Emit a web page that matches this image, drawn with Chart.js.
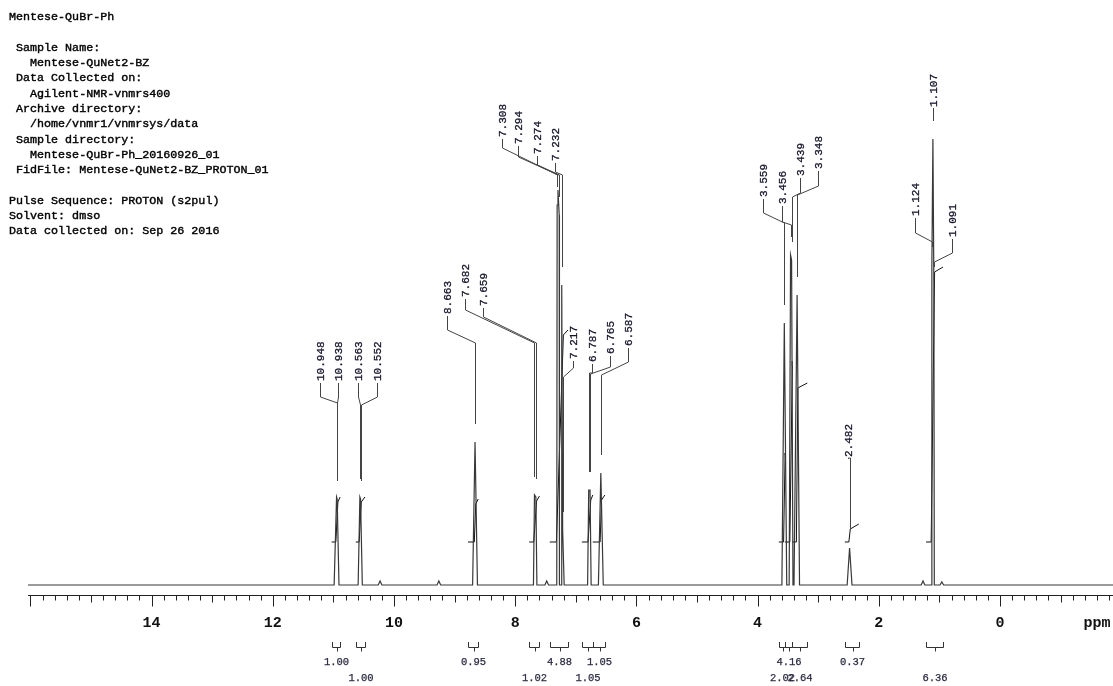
<!DOCTYPE html>
<html><head><meta charset="utf-8">
<script src="https://cdn.jsdelivr.net/npm/chart.js@4.4.1/dist/chart.umd.min.js"></script>
<style>html,body{margin:0;padding:0;background:#fff}canvas{display:block}</style>
</head><body>
<canvas id="c" width="1113" height="686"></canvas>
<script>
// ---------------- data ----------------
const headerLines = [
  "Mentese-QuBr-Ph",
  "",
  " Sample Name:",
  "   Mentese-QuNet2-BZ",
  " Data Collected on:",
  "   Agilent-NMR-vnmrs400",
  " Archive directory:",
  "   /home/vnmr1/vnmrsys/data",
  " Sample directory:",
  "   Mentese-QuBr-Ph_20160926_01",
  " FidFile: Mentese-QuNet2-BZ_PROTON_01",
  "",
  "Pulse Sequence: PROTON (s2pul)",
  "Solvent: dmso",
  "Data collected on: Sep 26 2016"
];

const peakPpm    = [10.948,10.938,10.563,10.552,8.663,7.682,7.659,7.308,7.294,7.274,7.232,7.217,6.787,6.765,6.587,3.559,3.456,3.439,3.348,2.482,1.124,1.107,1.091];
const peakHeight = [88,86,88,86,143,90,88,380,395,370,300,55,95,95,112,262,330,325,290,37,320,446,300];
const peakText   = ["10.948","10.938","10.563","10.552","8.663","7.682","7.659","7.308","7.294","7.274","7.232","7.217","6.787","6.765","6.587","3.559","3.456","3.439","3.348","2.482","1.124","1.107","1.091"];

const minorPpm    = [10.23, 9.26, 7.48, 1.27, 0.96];
const minorHeight = [4, 4, 4, 4, 3];

const intStart    = [11.03,10.63,8.78,7.77,7.43,6.90,6.72,3.65,3.55,3.43,2.56,1.22];
const intEnd      = [10.89,10.48,8.61,7.60,7.13,6.72,6.52,3.55,3.43,3.18,2.33,0.94];
const intText     = ["1.00","1.00","0.95","1.02","4.88","1.05","1.05","2.02","4.16","2.64","0.37","6.36"];
const intCurveTop = [86,86,84,87,253,88,88,130,222,200,59,316];

const axisTickValues = [14,12,10,8,6,4,2,0];
const axisTickLabels = ["14","12","10","8","6","4","2","0"];
const axisUnit = "ppm";
const ppmMin = -1.865, ppmMax = 16.04;

// peak-label annotation layout (in ppm / intensity units)
const labelPpm    = [11.221,10.924,10.594,10.281, 9.125, 8.828,8.531, 8.218,7.954,7.640,7.343, 7.046, 6.733,6.436,6.139, 3.911,3.597,3.300,3.003, 2.508, 1.403,1.106,0.792];
const labelBottom = [203,203,203,203, 270, 287,278, 447,440,430,423, 225, 222,230,238, 387,380,408,415, 127, 368,477,347];
const labelKnee   = [188,188,188,188, 255, 275,268, 437,428,420,413, 217, 212,218,223, 372,363,392,399, 127, 352,477,332];
const labelJoin   = [182,182,180,180, 242, 242,242, 410,410,410,410, 208, 212,211,210, 362,360,388,390, 127, 343,477,323];

// ---------------- build datasets ----------------
const W = 0.04;
const spec = [{x:ppmMax,y:0},{x:ppmMin,y:0}];
peakPpm.forEach((p,i)=>{ spec.push({x:p+W,y:0},{x:p,y:peakHeight[i]},{x:p-W,y:0}); });
minorPpm.forEach((p,i)=>{ spec.push({x:p+0.03,y:0},{x:p,y:minorHeight[i]},{x:p-0.03,y:0}); });
spec.sort((a,b)=>b.x-a.x);

const INT_BASE = 43;
const intPts = [];
intStart.forEach((s,i)=>{
  const e = intEnd[i];
  const inside = peakPpm.filter(p=>p<=s && p>=e);
  const pf = Math.max(...inside), pl = Math.min(...inside);
  const top = intCurveTop[i];
  intPts.push({x:s,y:INT_BASE},{x:pf+0.012,y:INT_BASE},{x:pl-0.012,y:top-3},{x:e,y:top+2},{x:e-0.001,y:null});
});

const MONO = "'Liberation Mono', 'DejaVu Sans Mono', monospace";

function heavyText(ctx, s, x, y, w){
  ctx.fillText(s, x, y);
  ctx.lineWidth = w;
  ctx.strokeStyle = ctx.fillStyle;
  ctx.strokeText(s, x, y);
}

const decor = {
  id:'decor',
  afterDatasetsDraw(chart){
    const ctx = chart.ctx, xs = chart.scales.x, ys = chart.scales.y;
    const ca = chart.chartArea;
    ctx.save();
    // peak leaders
    const GAP = 18;
    peakPpm.forEach((p,i)=>{
      const lx = Math.round(xs.getPixelForValue(labelPpm[i]))+0.5;
      const px = Math.round(xs.getPixelForValue(p))+0.5;
      const yb = ys.getPixelForValue(labelBottom[i]);
      const yk = ys.getPixelForValue(labelKnee[i]);
      const yj = ys.getPixelForValue(labelJoin[i]);
      const ye = ys.getPixelForValue(peakHeight[i]+GAP);
      ctx.strokeStyle = '#444'; ctx.lineWidth = 1;
      ctx.beginPath();
      ctx.moveTo(lx, yb+1);
      ctx.lineTo(lx, yk);
      ctx.lineTo(px, yj);
      if (ye > yj) ctx.lineTo(px, ye);
      ctx.stroke();
      ctx.save();
      ctx.translate(lx, yb-1);
      ctx.rotate(-Math.PI/2);
      ctx.fillStyle = '#15152a';
      ctx.font = "11px " + MONO;
      ctx.textAlign = 'left'; ctx.textBaseline = 'middle';
      heavyText(ctx, peakText[i], 0, 0.5, 0.3);
      ctx.restore();
    });

    // axis
    const ay = Math.round(ca.bottom)+0.5;
    ctx.strokeStyle = '#222'; ctx.lineWidth = 1;
    ctx.beginPath(); ctx.moveTo(ca.left, ay); ctx.lineTo(ca.right, ay); ctx.stroke();
    for (let k = Math.ceil(ppmMin/0.2); k <= Math.floor(ppmMax/0.2); k++){
      const v = k*0.2;
      const x = Math.round(xs.getPixelForValue(v))+0.5;
      let len = 5;
      if (k % 10 === 0) len = 11; else if (k % 5 === 0) len = 7;
      ctx.beginPath(); ctx.moveTo(x, ay); ctx.lineTo(x, ay+len); ctx.stroke();
    }
    ctx.fillStyle = '#111';
    ctx.font = "bold 15px " + MONO;
    ctx.textAlign = 'center'; ctx.textBaseline = 'middle';
    axisTickValues.forEach((v,i)=>{ ctx.fillText(axisTickLabels[i], xs.getPixelForValue(v), ca.bottom+28); });
    ctx.fillText(axisUnit, xs.getPixelForValue(-1.6), ca.bottom+28);

    // integral brackets
    ctx.font = "10.5px " + MONO;
    intStart.forEach((s,i)=>{
      const x1 = Math.round(xs.getPixelForValue(s))+0.5;
      const x2 = Math.round(xs.getPixelForValue(intEnd[i]))+0.5;
      const xc = Math.round((x1+x2)/2)+0.5;
      const t = ca.bottom+47, b = Math.round(ca.bottom+52)+0.5;
      ctx.strokeStyle = '#333'; ctx.lineWidth = 1;
      ctx.beginPath();
      ctx.moveTo(x1,t); ctx.lineTo(x1,b); ctx.lineTo(x2,b); ctx.lineTo(x2,t);
      ctx.moveTo(xc,b); ctx.lineTo(xc,b+4);
      ctx.stroke();
      ctx.fillStyle = '#2b2b40';
      heavyText(ctx, intText[i], (x1+x2)/2, ca.bottom + (i%2===0 ? 67 : 83), 0.25);
    });

    // header
    ctx.fillStyle = '#000';
    ctx.font = "11.7px " + MONO;
    ctx.textAlign = 'left'; ctx.textBaseline = 'middle';
    headerLines.forEach((s,i)=>{ if (s) heavyText(ctx, s, 9, 17 + i*15.3, 0.4); });
    ctx.restore();
  }
};

new Chart(document.getElementById('c'), {
  type:'line',
  data:{ datasets:[
    { data: spec, borderColor:'#383838', borderWidth:1.2, pointRadius:0, tension:0, fill:false },
    { data: intPts, borderColor:'#111', borderWidth:1, pointRadius:0, tension:0, fill:false, spanGaps:false }
  ]},
  options:{
    responsive:false, animation:false, devicePixelRatio:1,
    layout:{ padding:{ left:28, right:0, top:0, bottom:91 } },
    plugins:{ legend:{display:false}, tooltip:{enabled:false} },
    scales:{
      x:{ type:'linear', min:ppmMin, max:ppmMax, reverse:true, display:false },
      y:{ type:'linear', min:-10, max:585, display:false }
    }
  },
  plugins:[decor]
});
</script>
</body></html>
